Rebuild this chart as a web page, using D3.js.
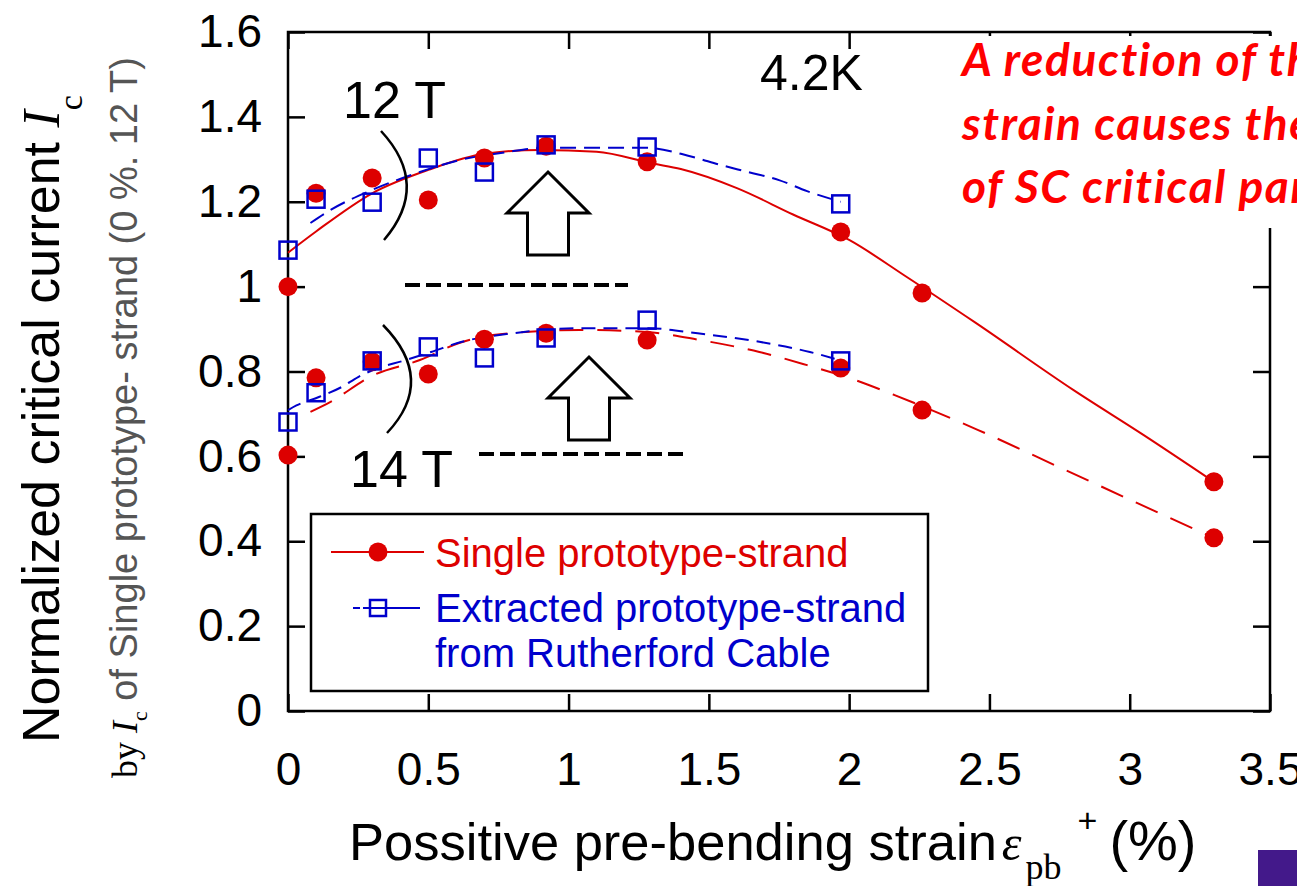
<!DOCTYPE html>
<html>
<head>
<meta charset="utf-8">
<script src="https://cdn.jsdelivr.net/npm/d3@7"></script>
<style>
body { margin: 0; background: #fff; }
svg { display: block; }
</style>
</head>
<body>
<div id="chart"></div>
<script>
// measured points (strain %, normalized Ic)
var strainSingle = [0, 0.1, 0.3, 0.5, 0.7, 0.92, 1.28, 1.97, 2.26, 3.3];
var single12T = [1.0, 1.22, 1.256, 1.204, 1.303, 1.331, 1.294, 1.129, 0.985, 0.54];
var single14T = [0.603, 0.785, 0.823, 0.794, 0.876, 0.89, 0.874, 0.808, 0.709, 0.408];

var strainExtracted = [0, 0.1, 0.3, 0.5, 0.7, 0.92, 1.28, 1.97];
var extracted12T = [1.086, 1.206, 1.199, 1.303, 1.27, 1.334, 1.329, 1.195];
var extracted14T = [0.681, 0.75, 0.825, 0.858, 0.832, 0.879, 0.921, 0.825];

// fitted curves
var fitSingle12Strain = [0, 0.1, 0.3, 0.5, 0.7, 0.9, 1.1, 1.3, 1.4, 1.6, 1.8, 2.0, 2.2, 2.45, 2.8, 3.05, 3.3];
var fitSingle12 = [1.08, 1.13, 1.22, 1.275, 1.313, 1.322, 1.318, 1.29, 1.277, 1.232, 1.17, 1.11, 1.025, 0.915, 0.756, 0.65, 0.54];
var fitSingle14Strain = [0.08, 0.15, 0.3, 0.47, 0.61, 0.73, 1.04, 1.28, 1.47, 1.68, 1.85, 2.0, 2.16, 2.46, 2.77, 3.08, 3.3];
var fitSingle14 = [0.705, 0.728, 0.79, 0.827, 0.867, 0.886, 0.898, 0.893, 0.874, 0.846, 0.815, 0.785, 0.745, 0.662, 0.568, 0.474, 0.408];
var fitExtracted12Strain = [0.08, 0.15, 0.3, 0.47, 0.61, 0.78, 0.92, 1.1, 1.28, 1.44, 1.54, 1.64, 1.75, 1.85, 1.97];
var fitExtracted12 = [1.15, 1.18, 1.228, 1.27, 1.298, 1.317, 1.327, 1.327, 1.327, 1.306, 1.287, 1.27, 1.251, 1.225, 1.2];
var fitExtracted14Strain = [0, 0.03, 0.11, 0.19, 0.25, 0.33, 0.41, 0.51, 0.62, 0.8, 1.04, 1.28, 1.46, 1.68, 1.86, 1.97];
var fitExtracted14 = [0.709, 0.72, 0.74, 0.763, 0.787, 0.81, 0.825, 0.846, 0.87, 0.89, 0.902, 0.902, 0.89, 0.87, 0.846, 0.826];

var xTicks = [0, 0.5, 1, 1.5, 2, 2.5, 3, 3.5];
var yTicks = [0, 0.2, 0.4, 0.6, 0.8, 1, 1.2, 1.4, 1.6];

var legendLabels = ["Single prototype-strand", "Extracted prototype-strand", "from Rutherford Cable"];
var noteLines = ["A reduction of the", "strain causes the recovery", "of SC critical parameters"];

var red = "#dd0000", blue = "#0000cc";
var sans = "Liberation Sans, Arial, sans-serif", serif = "Liberation Serif, Times New Roman, serif";

var svg = d3.select("#chart").append("svg")
    .attr("width", 1297)
    .attr("height", 886);

var x = d3.scaleLinear().domain([0, 3.5]).range([288, 1270]);
var y = d3.scaleLinear().domain([0, 1.6]).range([711, 32]);

var fmt = function(d) { return String(+d.toFixed(1)); };

function styleAxis(g) {
  g.select(".domain").remove();
  g.selectAll(".tick line").attr("stroke", "#000").attr("stroke-width", 2.5);
  g.selectAll(".tick text").attr("fill", "#000");
  g.attr("font-family", sans).attr("font-size", 46);
}

svg.append("g").attr("transform", "translate(0,711)")
    .call(d3.axisBottom(x).tickValues(xTicks).tickSize(-17).tickPadding(41).tickFormat(fmt))
    .call(styleAxis);
svg.append("g").attr("transform", "translate(288,0)")
    .call(d3.axisLeft(y).tickValues(yTicks).tickSize(-17).tickPadding(26).tickFormat(fmt))
    .call(styleAxis);
svg.append("g").attr("transform", "translate(0,32)")
    .call(d3.axisTop(x).tickValues(xTicks).tickSize(-17).tickFormat(""))
    .call(styleAxis);
svg.append("g").attr("transform", "translate(1270,0)")
    .call(d3.axisRight(y).tickValues(yTicks).tickSize(-17).tickFormat(""))
    .call(styleAxis);

svg.append("rect")
    .attr("x", x(0)).attr("y", y(1.6))
    .attr("width", x(3.5) - x(0)).attr("height", y(0) - y(1.6))
    .attr("fill", "none").attr("stroke", "#000").attr("stroke-width", 2.5);

// fitted lines
var line = d3.line()
    .x(function(d) { return x(d[0]); })
    .y(function(d) { return y(d[1]); })
    .curve(d3.curveMonotoneX);

var fits = [
  {s: fitSingle12Strain, v: fitSingle12, color: red, dash: null},
  {s: fitSingle14Strain, v: fitSingle14, color: red, dash: "24,14"},
  {s: fitExtracted12Strain, v: fitExtracted12, color: blue, dash: "16,8"},
  {s: fitExtracted14Strain, v: fitExtracted14, color: blue, dash: "14,8"}
];
fits.forEach(function(f) {
  svg.append("path")
      .attr("d", line(d3.zip(f.s, f.v)))
      .attr("fill", "none")
      .attr("stroke", f.color)
      .attr("stroke-width", 2)
      .attr("stroke-dasharray", f.dash);
});

// red circles
[single12T, single14T].forEach(function(vals) {
  svg.selectAll(null)
    .data(d3.zip(strainSingle, vals))
    .enter().append("circle")
      .attr("cx", function(d) { return x(d[0]); })
      .attr("cy", function(d) { return y(d[1]); })
      .attr("r", 9.5)
      .attr("fill", red);
});

// blue squares
[extracted12T, extracted14T].forEach(function(vals) {
  svg.selectAll(null)
    .data(d3.zip(strainExtracted, vals))
    .enter().append("rect")
      .attr("x", function(d) { return x(d[0]) - 8.5; })
      .attr("y", function(d) { return y(d[1]) - 8.5; })
      .attr("width", 17).attr("height", 17)
      .attr("fill", "none")
      .attr("stroke", blue)
      .attr("stroke-width", 2.5);
});

// annotations
svg.append("text").attr("x", 343).attr("y", 118)
    .attr("font-family", sans).attr("font-size", 52).text("12 T");
svg.append("text").attr("x", 350).attr("y", 487)
    .attr("font-family", sans).attr("font-size", 52).text("14 T");
svg.append("text").attr("x", 760).attr("y", 90)
    .attr("font-family", sans).attr("font-size", 50).text("4.2K");

svg.append("path").attr("d", "M381,131 Q431,185 384,240")
    .attr("fill", "none").attr("stroke", "#000").attr("stroke-width", 2.5);
svg.append("path").attr("d", "M383,325 Q437,380 387,433")
    .attr("fill", "none").attr("stroke", "#000").attr("stroke-width", 2.5);

svg.append("line").attr("x1", 405).attr("x2", 628).attr("y1", 285).attr("y2", 285)
    .attr("stroke", "#000").attr("stroke-width", 4).attr("stroke-dasharray", "15,6");
svg.append("line").attr("x1", 479).attr("x2", 685).attr("y1", 454).attr("y2", 454)
    .attr("stroke", "#000").attr("stroke-width", 4).attr("stroke-dasharray", "15,6");

function blockArrow(cx, tip) {
  var pts = [[cx, tip], [cx + 41, tip + 41], [cx + 20.5, tip + 41], [cx + 20.5, tip + 83],
             [cx - 20.5, tip + 83], [cx - 20.5, tip + 41], [cx - 41, tip + 41]];
  svg.append("polygon")
      .attr("points", pts.map(function(p) { return p.join(","); }).join(" "))
      .attr("fill", "#fff").attr("stroke", "#000").attr("stroke-width", 3);
}
blockArrow(548, 172);
blockArrow(589, 357);

// legend
svg.append("rect").attr("x", 311).attr("y", 514).attr("width", 617).attr("height", 177)
    .attr("fill", "#fff").attr("stroke", "#000").attr("stroke-width", 2.5);
svg.append("line").attr("x1", 331).attr("x2", 424).attr("y1", 552).attr("y2", 552)
    .attr("stroke", red).attr("stroke-width", 2);
svg.append("circle").attr("cx", 378).attr("cy", 552).attr("r", 9.5).attr("fill", red);
svg.append("line").attr("x1", 353).attr("x2", 420).attr("y1", 608).attr("y2", 608)
    .attr("stroke", blue).attr("stroke-width", 2).attr("stroke-dasharray", "7,3,200");
svg.append("rect").attr("x", 370).attr("y", 600).attr("width", 16).attr("height", 16)
    .attr("fill", "none").attr("stroke", blue).attr("stroke-width", 2.5);
svg.selectAll(".legtext")
  .data(legendLabels)
  .enter().append("text")
    .attr("x", 435)
    .attr("y", function(d, i) { return [567, 622, 667][i]; })
    .attr("font-family", sans).attr("font-size", 40)
    .attr("fill", function(d, i) { return i == 0 ? red : blue; })
    .text(function(d) { return d; });

// axis titles
var ylab = svg.append("text").attr("transform", "translate(59,743) rotate(-90)")
    .attr("font-family", sans).attr("font-size", 52);
ylab.append("tspan").text("Normalized critical current ");
ylab.append("tspan").attr("font-family", serif).attr("font-style", "italic").text("I");
ylab.append("tspan").attr("font-family", serif).attr("font-size", 34).attr("dy", 23).text("c");

var ylab2 = svg.append("text").attr("transform", "translate(137,778) rotate(-90)")
    .attr("font-family", serif).attr("font-size", 36);
ylab2.append("tspan").text("by ");
ylab2.append("tspan").attr("font-style", "italic").text("I");
ylab2.append("tspan").attr("font-size", 22).attr("dy", 10).text("c");
ylab2.append("tspan").attr("font-family", sans).attr("font-size", 38).attr("fill", "#555").attr("dy", -10)
    .text(" of Single prototype- strand (0 %. 12 T)");

var xlab = svg.append("text").attr("x", 349).attr("y", 860)
    .attr("font-family", sans).attr("font-size", 52.5);
xlab.append("tspan").text("Possitive pre-bending strain");
xlab.append("tspan").attr("font-family", serif).attr("font-style", "italic").attr("font-size", 50).attr("dx", 5).text("\u03b5");
xlab.append("tspan").attr("font-family", serif).attr("font-size", 36).attr("dx", 4).attr("dy", 19).text("pb");
xlab.append("tspan").attr("font-size", 34).attr("dx", 16).attr("dy", -47).text("+");
xlab.append("tspan").attr("font-size", 56).attr("dx", 12).attr("dy", 28).text("(%)");

// red note box, top right
svg.append("rect").attr("x", 945).attr("y", 36).attr("width", 360).attr("height", 192).attr("fill", "#fff");
svg.selectAll(".note")
  .data(noteLines)
  .enter().append("text")
    .attr("x", 962)
    .attr("y", function(d, i) { return 76 + i * 63.5; })
    .attr("font-family", "Lato, Open Sans, sans-serif")
    .attr("font-weight", "bold").attr("font-style", "italic")
    .attr("font-size", 46)
    .attr("letter-spacing", 1.6)
    .attr("fill", "#ff0000")
    .text(function(d) { return d; });

svg.append("rect").attr("x", 1258).attr("y", 850).attr("width", 39).attr("height", 36).attr("fill", "#43198a");
</script>
</body>
</html>
